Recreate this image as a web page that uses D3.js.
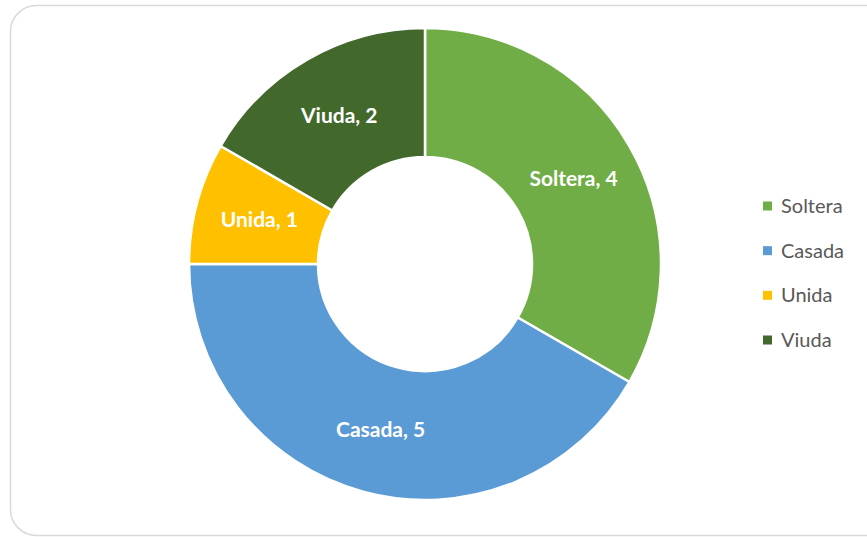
<!DOCTYPE html>
<html>
<head>
<meta charset="utf-8">
<script src="https://cdn.jsdelivr.net/npm/d3@7"></script>
<style>
html,body{margin:0;padding:0;background:#fff;}
svg{display:block;}
</style>
</head>
<body>
<svg id="chart" width="867" height="537"></svg>
<script>
const categories = ["Soltera", "Casada", "Unida", "Viuda"];
const values = [4, 5, 1, 2];
const colors = ["#70AD47", "#5B9BD5", "#FFC000", "#43682B"];

const svg = d3.select("#chart");
const font = "Lato, 'Open Sans', 'Liberation Sans', sans-serif";

svg.append("rect")
  .attr("x", 10.5).attr("y", 5.5)
  .attr("width", 880).attr("height", 530)
  .attr("rx", 26).attr("ry", 26)
  .attr("fill", "#fff")
  .attr("stroke", "#d9d9d9").attr("stroke-width", 1.5);

const data = categories.map((c, i) => ({cat: c, value: values[i], color: colors[i]}));
const cx = 425, cy = 264, outerR = 236, innerR = 107;

const pie = d3.pie().value(d => d.value).sort(null);
const arc = d3.arc().innerRadius(innerR).outerRadius(outerR);
const labelArc = d3.arc().innerRadius((innerR + outerR) / 2).outerRadius((innerR + outerR) / 2);

const g = svg.append("g").attr("transform", `translate(${cx},${cy})`);
const arcs = pie(data);

g.selectAll("path").data(arcs).join("path")
  .attr("d", arc)
  .attr("fill", d => d.data.color)
  .attr("stroke", "#fff")
  .attr("stroke-width", 2.5)
  .attr("stroke-linejoin", "round");

g.selectAll("text").data(arcs).join("text")
  .attr("transform", d => `translate(${labelArc.centroid(d)})`)
  .attr("text-anchor", "middle")
  .attr("dy", "0.35em")
  .attr("fill", "#fff")
  .attr("font-family", font)
  .attr("font-weight", "bold")
  .attr("font-size", 21)
  .text(d => `${d.data.cat}, ${d.data.value}`);

const legend = svg.append("g");
const ly = d3.scalePoint().domain(categories).range([206, 340]);
const items = legend.selectAll("g").data(data).join("g")
  .attr("transform", d => `translate(763,${ly(d.cat)})`);
items.append("rect")
  .attr("x", 0).attr("y", -4.5)
  .attr("width", 9).attr("height", 9)
  .attr("fill", d => d.color);
items.append("text")
  .attr("x", 18).attr("dy", "0.35em")
  .attr("fill", "#595959")
  .attr("font-family", font)
  .attr("font-size", 20)
  .text(d => d.cat);
</script>
</body>
</html>
